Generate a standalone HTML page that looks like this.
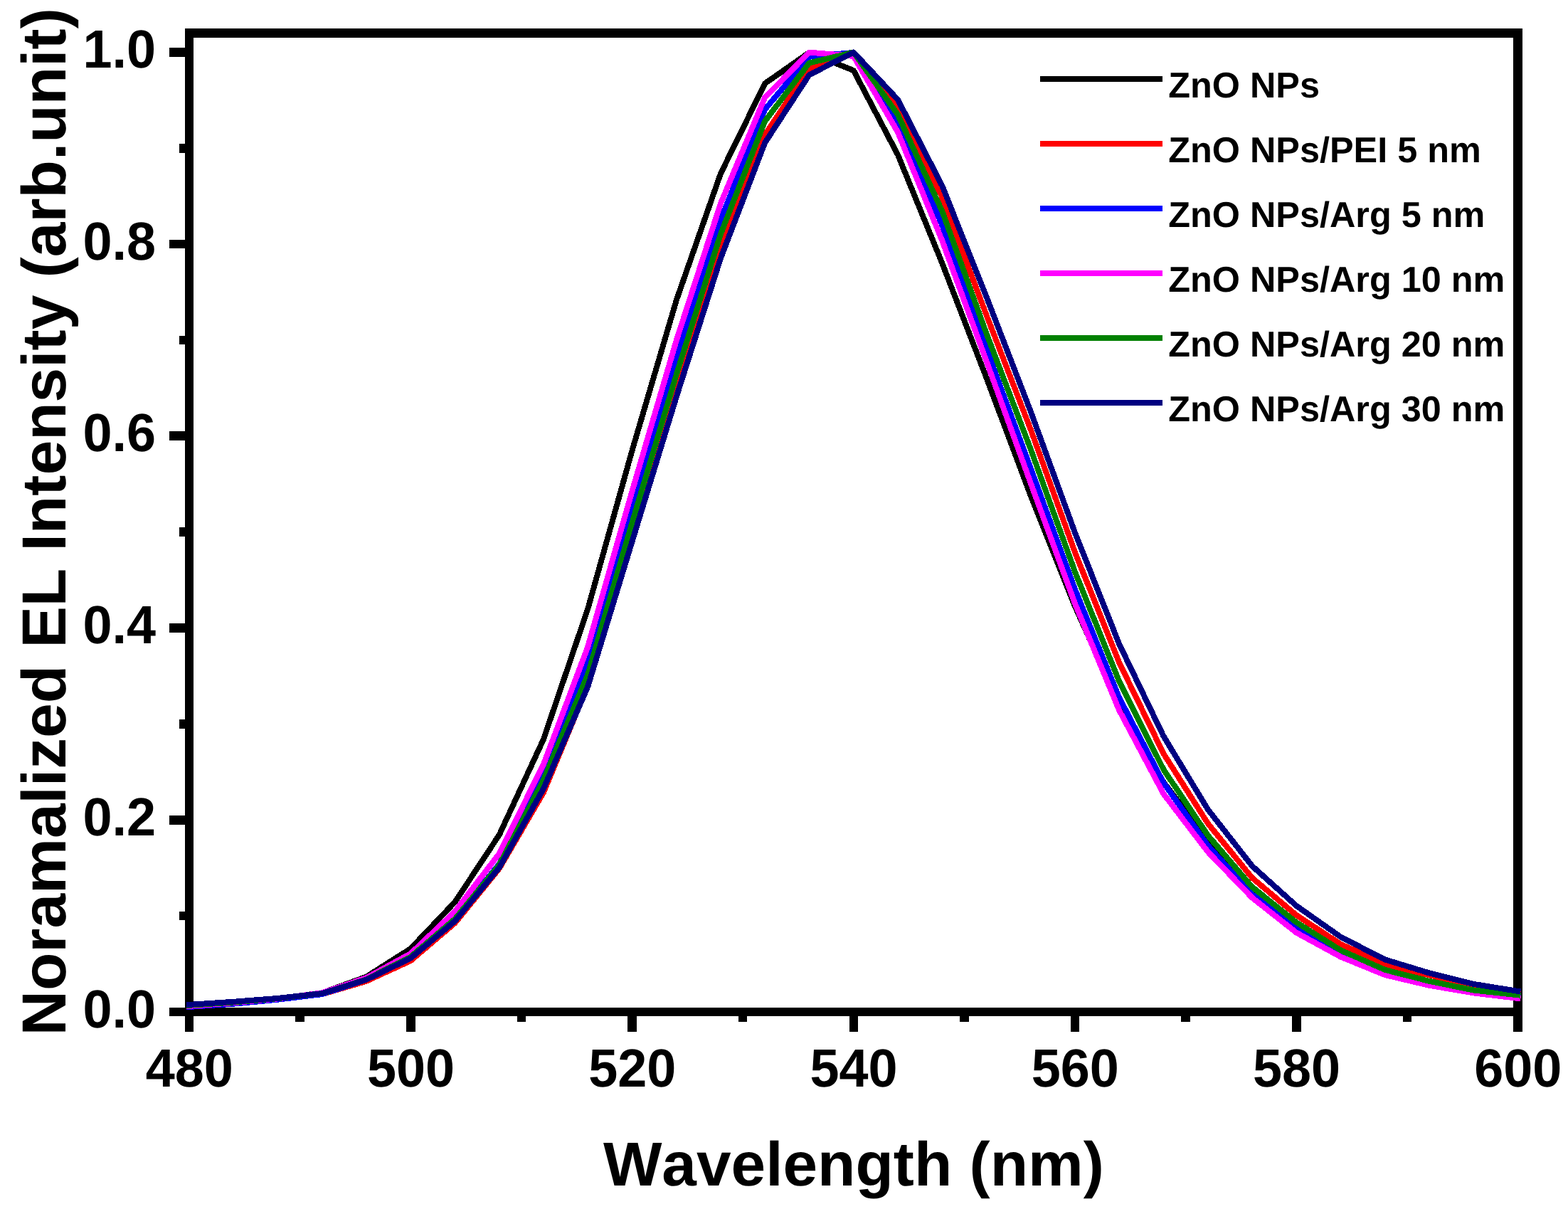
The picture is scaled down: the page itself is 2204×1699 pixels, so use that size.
<!DOCTYPE html>
<html lang="en"><head><meta charset="utf-8"><title>Normalized EL Intensity vs Wavelength</title>
<style>html,body{margin:0;padding:0;background:#fff}body{width:2204px;height:1699px;overflow:hidden}svg{display:block}text{font-family:"Liberation Sans",Arial,Helvetica,sans-serif;font-weight:bold;fill:#000;font-kerning:none;font-variant-ligatures:none;text-rendering:geometricPrecision}.c{fill:none;stroke-width:8;stroke-linejoin:round;stroke-linecap:square}</style></head><body>
<svg width="2204" height="1699" viewBox="0 0 2204 1699" role="img" aria-label="Normalized EL intensity versus wavelength for ZnO NPs with PEI and Arg interlayers">
<rect width="2204" height="1699" fill="#fff"/>
<g fill="#000" shape-rendering="crispEdges">
<rect x="260" y="40" width="12" height="1410"/>
<rect x="260" y="40" width="1880" height="13"/>
<rect x="2127" y="40" width="13" height="1410"/>
<rect x="238" y="1416" width="1902" height="12"/>
<rect x="238" y="67" width="24" height="13"/>
<rect x="252" y="202" width="10" height="13"/>
<rect x="238" y="337" width="24" height="12"/>
<rect x="252" y="472" width="10" height="12"/>
<rect x="238" y="606" width="24" height="13"/>
<rect x="252" y="741" width="10" height="13"/>
<rect x="238" y="876" width="24" height="13"/>
<rect x="252" y="1011" width="10" height="13"/>
<rect x="238" y="1146" width="24" height="13"/>
<rect x="252" y="1281" width="10" height="12"/>
<rect x="415" y="1426" width="13" height="10"/>
<rect x="571" y="1426" width="13" height="24"/>
<rect x="727" y="1426" width="12" height="10"/>
<rect x="882" y="1426" width="13" height="24"/>
<rect x="1038" y="1426" width="12" height="10"/>
<rect x="1194" y="1426" width="12" height="24"/>
<rect x="1349" y="1426" width="13" height="10"/>
<rect x="1505" y="1426" width="12" height="24"/>
<rect x="1660" y="1426" width="13" height="10"/>
<rect x="1816" y="1426" width="13" height="24"/>
<rect x="1972" y="1426" width="12" height="10"/>
</g>
<g class="c" shape-rendering="crispEdges">
<polyline stroke="#000000" points="266.0,1412.6 328.2,1408.5 390.5,1403.3 452.8,1395.3 515.0,1372.6 577.2,1333.1 639.5,1267.6 701.8,1173.2 764.0,1038.9 826.2,855.8 888.5,633.1 950.8,421.8 1013.0,243.8 1075.2,117.3 1137.5,73.8 1199.8,99.1 1262.0,217.5 1324.2,369.6 1386.5,530.9 1448.8,696.6 1511.0,852.0 1573.2,990.9 1635.5,1099.2 1697.8,1181.2 1760.0,1251.8 1822.2,1299.0 1884.5,1335.6 1946.8,1362.7 2009.0,1378.8 2071.2,1391.5 2133.5,1398.3"/>
<polyline stroke="#ff0000" points="266.0,1413.2 328.2,1409.2 390.5,1403.8 452.8,1397.1 515.0,1378.8 577.2,1350.1 639.5,1297.1 701.8,1220.5 764.0,1113.6 826.2,963.4 888.5,751.4 950.8,541.8 1013.0,343.3 1075.2,189.5 1137.5,96.4 1199.8,73.8 1262.0,147.9 1324.2,277.0 1386.5,442.7 1448.8,603.7 1511.0,776.1 1573.2,931.1 1635.5,1059.1 1697.8,1157.2 1760.0,1233.6 1822.2,1286.1 1884.5,1326.8 1946.8,1354.7 2009.0,1370.4 2071.2,1384.1 2133.5,1393.8"/>
<polyline stroke="#0000ff" points="266.0,1415.0 328.2,1410.7 390.5,1404.7 452.8,1397.1 515.0,1376.8 577.2,1345.1 639.5,1290.9 701.8,1214.1 764.0,1085.5 826.2,926.6 888.5,712.6 950.8,504.8 1013.0,308.8 1075.2,153.7 1137.5,79.7 1199.8,73.9 1262.0,171.3 1324.2,316.1 1386.5,490.3 1448.8,658.1 1511.0,828.1 1573.2,980.5 1635.5,1100.0 1697.8,1188.2 1760.0,1257.1 1822.2,1302.8 1884.5,1336.4 1946.8,1364.0 2009.0,1380.2 2071.2,1393.0 2133.5,1400.4"/>
<polyline stroke="#ff00ff" points="266.0,1413.9 328.2,1409.2 390.5,1403.4 452.8,1395.3 515.0,1374.1 577.2,1340.1 639.5,1280.9 701.8,1199.5 764.0,1074.1 826.2,909.2 888.5,690.2 950.8,478.2 1013.0,285.9 1075.2,136.9 1137.5,73.6 1199.8,78.9 1262.0,185.7 1324.2,337.9 1386.5,507.4 1448.8,679.1 1511.0,848.1 1573.2,998.2 1635.5,1115.6 1697.8,1197.1 1760.0,1261.5 1822.2,1310.6 1884.5,1344.6 1946.8,1370.1 2009.0,1384.8 2071.2,1395.4 2133.5,1402.9"/>
<polyline stroke="#008000" points="266.0,1412.8 328.2,1408.5 390.5,1403.1 452.8,1396.1 515.0,1376.4 577.2,1344.7 639.5,1291.5 701.8,1215.5 764.0,1096.2 826.2,948.1 888.5,734.5 950.8,526.2 1013.0,328.8 1075.2,170.2 1137.5,88.5 1199.8,73.5 1262.0,161.2 1324.2,296.5 1386.5,468.5 1448.8,631.4 1511.0,803.6 1573.2,957.7 1635.5,1081.4 1697.8,1174.0 1760.0,1246.4 1822.2,1296.2 1884.5,1335.4 1946.8,1362.9 2009.0,1378.8 2071.2,1391.5 2133.5,1398.3"/>
<polyline stroke="#000080" points="266.0,1411.9 328.2,1407.8 390.5,1402.9 452.8,1396.0 515.0,1376.7 577.2,1346.5 639.5,1294.3 701.8,1219.2 764.0,1108.3 826.2,965.0 888.5,761.1 950.8,557.5 1013.0,362.8 1075.2,200.5 1137.5,105.2 1199.8,73.5 1262.0,140.0 1324.2,260.9 1386.5,417.0 1448.8,578.4 1511.0,748.6 1573.2,905.1 1635.5,1034.6 1697.8,1137.5 1760.0,1217.0 1822.2,1272.9 1884.5,1316.7 1946.8,1348.5 2009.0,1367.4 2071.2,1382.9 2133.5,1392.9"/>
</g>
<g shape-rendering="crispEdges">
<rect x="1462" y="107" width="172" height="8" fill="#000000"/>
<rect x="1462" y="198" width="172" height="8" fill="#ff0000"/>
<rect x="1462" y="289" width="172" height="8" fill="#0000ff"/>
<rect x="1462" y="380" width="172" height="8" fill="#ff00ff"/>
<rect x="1462" y="471" width="172" height="8" fill="#008000"/>
<rect x="1462" y="562" width="172" height="8" fill="#000080"/>
</g>
<g font-size="50.4">
<text x="1642.2" y="137">ZnO NPs</text>
<text x="1642.2" y="228">ZnO NPs/PEI 5 nm</text>
<text x="1642.2" y="319">ZnO NPs/Arg 5 nm</text>
<text x="1642.2" y="410">ZnO NPs/Arg 10 nm</text>
<text x="1642.2" y="501">ZnO NPs/Arg 20 nm</text>
<text x="1642.2" y="592">ZnO NPs/Arg 30 nm</text>
</g>
<g font-size="73.8" text-anchor="middle">
<text transform="translate(266.3 1527) scale(1 1.025)">480</text>
<text transform="translate(577.5 1527) scale(1 1.025)">500</text>
<text transform="translate(888.8 1527) scale(1 1.025)">520</text>
<text transform="translate(1200.0 1527) scale(1 1.025)">540</text>
<text transform="translate(1511.3 1527) scale(1 1.025)">560</text>
<text transform="translate(1822.5 1527) scale(1 1.025)">580</text>
<text transform="translate(2133.8 1527) scale(1 1.025)">600</text>
</g>
<g font-size="73.8" text-anchor="end">
<text transform="translate(219 1444) scale(1 1.025)">0.0</text>
<text transform="translate(219 1174) scale(1 1.025)">0.2</text>
<text transform="translate(219 904) scale(1 1.025)">0.4</text>
<text transform="translate(219 634) scale(1 1.025)">0.6</text>
<text transform="translate(219 365) scale(1 1.025)">0.8</text>
<text transform="translate(219 95) scale(1 1.025)">1.0</text>
</g>
<g font-size="87.4">
<text x="847.9" y="1666">Wavelength (nm)</text>
<text font-size="87.53" transform="translate(92.1 1455.3) rotate(-90)">Noramalized EL Intensity (arb.unit)</text>
</g>
</svg></body></html>
